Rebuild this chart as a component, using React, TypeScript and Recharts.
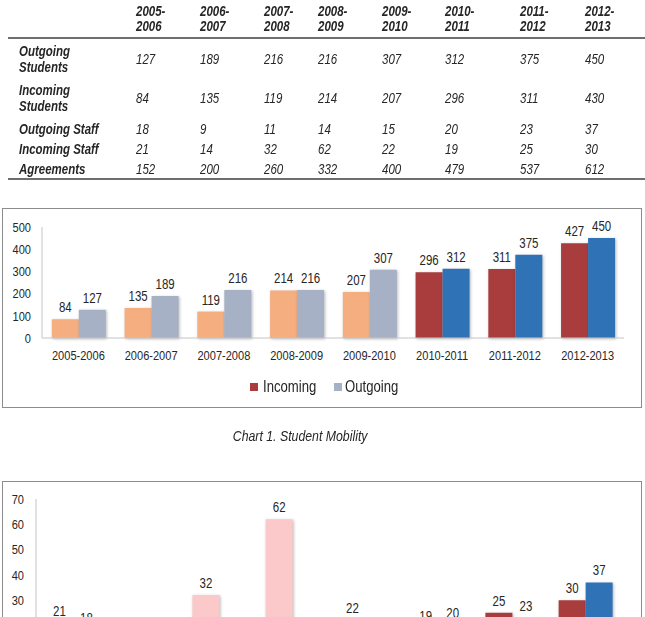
import React from 'react';
import { BarChart, Bar, XAxis, YAxis, Cell, LabelList } from 'recharts';

const YEARS = ['2005-2006', '2006-2007', '2007-2008', '2008-2009', '2009-2010', '2010-2011', '2011-2012', '2012-2013'];

// table values
const ROW_LABELS = ['Outgoing Students', 'Incoming Students', 'Outgoing Staff', 'Incoming Staff', 'Agreements'];
const OUT_STUDENTS = [127, 189, 216, 216, 307, 312, 375, 450];
const IN_STUDENTS = [84, 135, 119, 214, 207, 296, 311, 430];
const OUT_STAFF = [18, 9, 11, 14, 15, 20, 23, 37];
const IN_STAFF = [21, 14, 32, 62, 22, 19, 25, 30];
const AGREEMENTS = [152, 200, 260, 332, 400, 479, 537, 612];
const TABLE_ROWS = [OUT_STUDENTS, IN_STUDENTS, OUT_STAFF, IN_STAFF, AGREEMENTS];

// chart 1 shows 427 for the last incoming bar
const CHART_IN_STUDENTS = [84, 135, 119, 214, 207, 296, 311, 427];
const STUDENT_TICKS = [0, 100, 200, 300, 400, 500];
const STAFF_TICKS = [0, 10, 20, 30, 40, 50, 60, 70];

// no Arial Narrow here, so squeeze Liberation Sans horizontally
const FONT = '"Liberation Sans", Arial, sans-serif';
const SX = 0.82;
const TEXT = '#262626';

const PEACH = '#f4ae80';
const GREYBLUE = '#a7b1c5';
const DARKRED = '#a93c3c';
const BLUE = '#2f72b6';
const PINK = '#fbc9c9';
const PALE = '#eef0f4';
const SHADOW = { filter: 'drop-shadow(1.5px 1px 1.5px rgba(0,0,0,0.28))' };

const studentData = YEARS.map((y, i) => ({ year: y, incoming: CHART_IN_STUDENTS[i], outgoing: OUT_STUDENTS[i] }));
const staffData = YEARS.map((y, i) => ({ year: y, incoming: IN_STAFF[i], outgoing: OUT_STAFF[i] }));

const COL_WIDTHS = [128, 64, 64, 54, 64, 63, 75, 65, 60];
const ROW_HEIGHTS = [40, 40, 21, 20, 20];

function N({ children, origin = 'left center' }: { children: React.ReactNode; origin?: string }) {
  return (
    <span style={{ display: 'inline-block', transform: `scaleX(${SX})`, transformOrigin: origin, whiteSpace: 'nowrap' }}>
      {children}
    </span>
  );
}

function MobilityTable() {
  return (
    <table
      style={{
        position: 'absolute', left: 8, top: 0, width: 637, borderCollapse: 'collapse',
        tableLayout: 'fixed', fontFamily: FONT, fontSize: 14, fontStyle: 'italic', color: TEXT,
      }}
    >
      <colgroup>
        {COL_WIDTHS.map((w, i) => <col key={i} style={{ width: w }} />)}
      </colgroup>
      <thead>
        <tr style={{ height: 38, borderBottom: '2px solid #6e6e6e' }}>
          <th style={{ padding: 0 }} />
          {YEARS.map((y) => {
            const [a, b] = y.split('-');
            return (
              <th key={y} style={{ padding: '0 0 3px 0', textAlign: 'left', verticalAlign: 'bottom', lineHeight: '15px', fontWeight: 'bold' }}>
                <N>{a}-<br />{b}</N>
              </th>
            );
          })}
          <th style={{ padding: 0 }} />
        </tr>
      </thead>
      <tbody>
        {TABLE_ROWS.map((row, r) => {
          const words = ROW_LABELS[r].split(' ');
          return (
            <tr key={r} style={{ height: ROW_HEIGHTS[r], borderBottom: r === TABLE_ROWS.length - 1 ? '2px solid #6e6e6e' : 'none' }}>
              <td style={{ padding: '0 0 0 11px', fontWeight: 'bold', lineHeight: '16px', verticalAlign: 'middle' }}>
                <N>{r < 2 ? <>{words[0]}<br />{words[1]}</> : ROW_LABELS[r]}</N>
              </td>
              {row.map((v, i) => (
                <td key={i} style={{ padding: 0, verticalAlign: 'middle' }}><N>{v}</N></td>
              ))}
              <td style={{ padding: 0 }} />
            </tr>
          );
        })}
      </tbody>
    </table>
  );
}

function YTick(props: any) {
  const { x, y, payload } = props;
  return (
    <text transform={`translate(${x},${y}) scale(${SX},1)`} textAnchor="end" dy="0.36em"
      fill={TEXT} fontSize={13.5} fontFamily={FONT}>{payload.value}</text>
  );
}

function XTick(props: any) {
  const { x, y, payload } = props;
  return (
    <text transform={`translate(${x},${y}) scale(${SX},1)`} textAnchor="middle" dy="0.71em"
      fill={TEXT} fontSize={13.5} fontFamily={FONT}>{payload.value}</text>
  );
}

function TopLabel(props: any) {
  const { x, y, width, value } = props;
  const cx = Number(x) + Number(width) / 2;
  return (
    <text transform={`translate(${cx},${Number(y) - 7}) scale(${SX},1)`} textAnchor="middle"
      fill={TEXT} fontSize={14} fontFamily={FONT}>{value}</text>
  );
}

function StudentChart() {
  return (
    <div style={{ position: 'absolute', left: 2, top: 208, width: 638, height: 198, border: '1px solid #8c8c8c', background: '#fff' }}>
      <BarChart width={638} height={198} data={studentData} margin={{ top: 18, right: 17, left: 0, bottom: 39 }}
        barCategoryGap="13.5%" barGap={0}>
        <YAxis width={39} domain={[0, 500]} ticks={STUDENT_TICKS} interval={0} tick={<YTick />} tickLine={false}
          tickMargin={5} axisLine={{ stroke: '#c4c4c4' }} />
        <XAxis dataKey="year" height={30} tick={<XTick />} tickLine={false} tickMargin={6}
          axisLine={{ stroke: '#c4c4c4' }} interval={0} />
        <Bar dataKey="incoming" isAnimationActive={false}>
          {studentData.map((_, i) => <Cell key={i} fill={i >= 5 ? DARKRED : PEACH} style={SHADOW} />)}
          <LabelList dataKey="incoming" content={<TopLabel />} />
        </Bar>
        <Bar dataKey="outgoing" isAnimationActive={false}>
          {studentData.map((_, i) => <Cell key={i} fill={i >= 5 ? BLUE : GREYBLUE} style={SHADOW} />)}
          <LabelList dataKey="outgoing" content={<TopLabel />} />
        </Bar>
      </BarChart>
      <div style={{ position: 'absolute', left: 0, top: 168, width: 638, height: 20, fontFamily: FONT, fontSize: 16, color: TEXT }}>
        <span style={{ position: 'absolute', left: 247, top: 6, width: 8, height: 8, background: DARKRED }} />
        <span style={{ position: 'absolute', left: 260, top: 0, lineHeight: '20px' }}><N>Incoming</N></span>
        <span style={{ position: 'absolute', left: 331, top: 6, width: 8, height: 8, background: GREYBLUE }} />
        <span style={{ position: 'absolute', left: 342, top: 0, lineHeight: '20px' }}><N>Outgoing</N></span>
      </div>
    </div>
  );
}

function StaffChart() {
  return (
    <div style={{ position: 'absolute', left: 2, top: 481, width: 638, height: 240, border: '1px solid #8c8c8c', background: '#fff' }}>
      <BarChart width={638} height={240} data={staffData} margin={{ top: 17, right: 19, left: 0, bottom: 16 }}
        barCategoryGap="13.5%" barGap={0}>
        <YAxis width={33} domain={[0, 70]} ticks={STAFF_TICKS} interval={0} tick={<YTick />} tickLine={false}
          tickMargin={6} axisLine={{ stroke: '#c4c4c4' }} />
        <XAxis dataKey="year" height={30} tick={<XTick />} tickLine={false} tickMargin={6}
          axisLine={{ stroke: '#c4c4c4' }} interval={0} />
        <Bar dataKey="incoming" isAnimationActive={false}>
          {staffData.map((_, i) => <Cell key={i} fill={i >= 5 ? DARKRED : PINK} style={SHADOW} />)}
          <LabelList dataKey="incoming" content={<TopLabel />} />
        </Bar>
        <Bar dataKey="outgoing" isAnimationActive={false}>
          {staffData.map((_, i) => <Cell key={i} fill={i >= 7 ? BLUE : PALE} style={SHADOW} />)}
          <LabelList dataKey="outgoing" content={<TopLabel />} />
        </Bar>
      </BarChart>
    </div>
  );
}

export default function App() {
  return (
    <div style={{ position: 'absolute', left: 0, top: 0, width: 645, height: 617, overflow: 'hidden', background: '#fff' }}>
      <MobilityTable />
      <StudentChart />
      <div style={{ position: 'absolute', left: 0, width: 600, top: 427, textAlign: 'center', fontFamily: FONT, fontSize: 15, fontStyle: 'italic', color: TEXT }}>
        <N origin="center center">Chart 1. Student Mobility</N>
      </div>
      <StaffChart />
    </div>
  );
}
